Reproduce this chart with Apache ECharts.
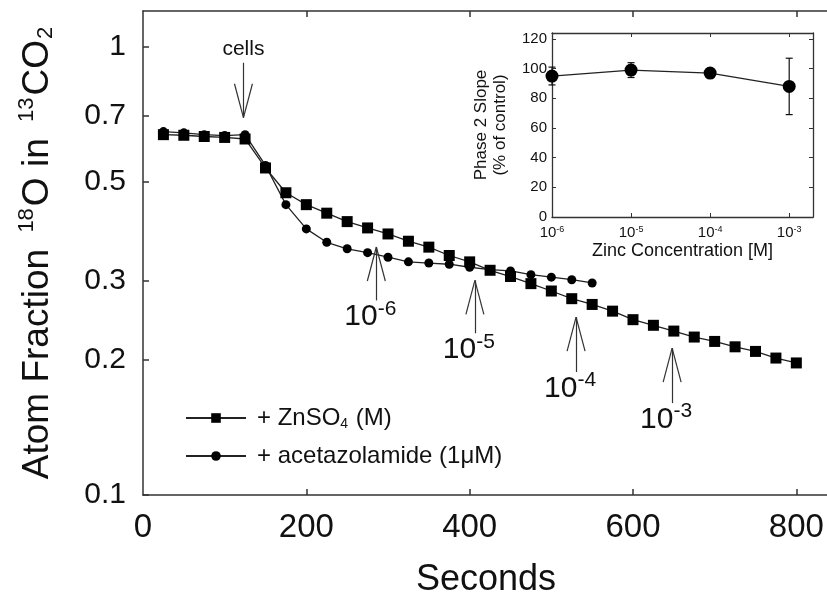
<!DOCTYPE html>
<html>
<head>
<meta charset="utf-8">
<script src="https://cdn.jsdelivr.net/npm/echarts@6/dist/echarts.min.js"></script>
<style>
html, body { margin: 0; padding: 0; background: #fff; }
#main { width: 827px; height: 593px; }
</style>
</head>
<body>
<div id="main"></div>
<script>
// main panel: 18O atom fraction vs time
var secZn = [25, 50, 75, 100, 125, 150, 175, 200, 225, 250, 275, 300, 325, 350, 375, 400,
    425, 450, 475, 500, 525, 550, 575, 600, 625, 650, 675, 700, 725, 750, 775, 800];
var zinc = [0.636, 0.634, 0.630, 0.627, 0.622, 0.536, 0.472, 0.444, 0.425, 0.407, 0.394, 0.382,
    0.368, 0.357, 0.342, 0.331, 0.317, 0.307, 0.296, 0.285, 0.274, 0.266, 0.257, 0.246,
    0.239, 0.232, 0.225, 0.220, 0.214, 0.209, 0.202, 0.197];
var secAcz = [25, 50, 75, 100, 125, 150, 175, 200, 225, 250, 275, 300, 325, 350, 375, 400,
    425, 450, 475, 500, 525, 550];
var acz = [0.646, 0.642, 0.636, 0.633, 0.636, 0.543, 0.444, 0.392, 0.366, 0.354, 0.347, 0.339,
    0.331, 0.329, 0.327, 0.322, 0.318, 0.316, 0.310, 0.306, 0.302, 0.297];
var yTicks = [0.1, 0.2, 0.3, 0.5, 0.7, 1];
var xTicks = [0, 200, 400, 600, 800];

// inset: phase 2 slope vs zinc
var zincConc = [1e-6, 1e-5, 1e-4, 1e-3];
var slope = [95, 99, 97, 88];
var slopeErr = [6, 5, 3, 19];
var insetYTicks = [0, 20, 40, 60, 80, 100, 120];

// arrows: x in seconds; shaft from -> to (tip), head = y where the V opens
var arrows = [
    { x: 123, from: 0.92, to: 0.694, head: 0.826, text: 'cells' },
    { x: 285.7, from: 0.2716, to: 0.3572, head: 0.300, exp: '-6' },
    { x: 406.4, from: 0.2294, to: 0.301, head: 0.2528, exp: '-5' },
    { x: 530.3, from: 0.188, to: 0.2493, head: 0.2094, exp: '-4' },
    { x: 647.9, from: 0.1603, to: 0.2125, head: 0.1785, exp: '-3' }
];
var headHalf = 11; // seconds

var FONT = 'Liberation Sans';
var AXIS = '#333';

var myChart = echarts.init(document.getElementById('main'));

var arrowLines = [];
arrows.forEach(function (a) {
    var label;
    if (a.text) {
        label = { show: true, position: 'start', distance: 3, formatter: a.text,
            fontSize: 21, color: '#111', fontFamily: FONT };
    } else {
        label = { show: true, position: 'start', distance: -2,
            formatter: '{a|10}{b|' + a.exp + '}', color: '#111',
            rich: {
                a: { fontSize: 30, fontFamily: FONT, color: '#111' },
                b: { fontSize: 21, fontFamily: FONT, color: '#111', padding: [0, 12, 16, 0] }
            } };
    }
    arrowLines.push([{ coord: [a.x, a.from], label: label }, { coord: [a.x, a.to] }]);
    arrowLines.push([{ coord: [a.x - headHalf, a.head], label: { show: false } }, { coord: [a.x, a.to] }]);
    arrowLines.push([{ coord: [a.x + headHalf, a.head], label: { show: false } }, { coord: [a.x, a.to] }]);
});

myChart.setOption({
    animation: false,
    textStyle: { fontFamily: FONT },
    legend: {
        data: ['+ ZnSO4 (M)', '+ acetazolamide (1μM)'],
        orient: 'vertical',
        left: 180,
        top: 399,
        itemWidth: 60,
        itemHeight: 12,
        itemGap: 10,
        selectedMode: false,
        formatter: function (name) {
            return name.replace('SO4', 'SO{sub|4}');
        },
        textStyle: {
            fontSize: 24, color: '#111', lineHeight: 28, padding: [0, 0, 0, 6],
            rich: { sub: { fontSize: 14, color: '#111', padding: [12, 1, 0, 0] } }
        }
    },
    grid: [
        { left: 143, top: 11, width: 686, height: 484, outerBoundsMode: 'none' },
        { left: 552, top: 33, width: 261, height: 184, outerBoundsMode: 'none' }
    ],
    xAxis: [{
        type: 'value', gridIndex: 0, min: 0, max: 840, position: 'bottom',
        axisLine: { onZero: false, lineStyle: { color: AXIS, width: 1.5 } },
        axisTick: { inside: true, length: 6, customValues: [200, 400, 600, 800], lineStyle: { color: AXIS, width: 1.5 } },
        axisLabel: { customValues: xTicks, fontSize: 33, color: '#111', margin: 16 },
        splitLine: { show: false },
        name: 'Seconds', nameLocation: 'middle', nameGap: 67,
        nameTextStyle: { fontSize: 36, color: '#111' }
    }, {
        type: 'value', gridIndex: 0, min: 0, max: 840, position: 'top',
        axisLine: { onZero: false, lineStyle: { color: AXIS, width: 1.5 } },
        axisTick: { inside: true, length: 6, customValues: [200, 400, 600, 800], lineStyle: { color: AXIS, width: 1.5 } },
        axisLabel: { show: false },
        splitLine: { show: false }
    }, {
        type: 'log', logBase: 10, gridIndex: 1, min: 1e-6, max: 2e-3, position: 'bottom',
        axisLine: { onZero: false, lineStyle: { color: AXIS, width: 1.3 } },
        axisTick: { inside: true, length: 4, lineStyle: { color: AXIS } },
        axisLabel: {
            fontSize: 15, color: '#111', margin: 8,
            formatter: function (v) {
                return '10{s|' + Math.round(Math.log10(v)) + '}';
            },
            rich: { s: { fontSize: 9, color: '#111', padding: [0, 0, 6, 0] } }
        },
        splitLine: { show: false },
        name: 'Zinc Concentration [M]', nameLocation: 'middle', nameGap: 25,
        nameTextStyle: { fontSize: 18, color: '#111' }
    }, {
        type: 'log', logBase: 10, gridIndex: 1, min: 1e-6, max: 2e-3, position: 'top',
        axisLine: { onZero: false, lineStyle: { color: AXIS, width: 1.3 } },
        axisTick: { inside: true, length: 4, lineStyle: { color: AXIS } },
        axisLabel: { show: false },
        splitLine: { show: false }
    }],
    yAxis: [{
        type: 'log', logBase: 10, gridIndex: 0, min: 0.1, max: 1.2, position: 'left',
        axisLine: { show: true, onZero: false, lineStyle: { color: AXIS, width: 1.5 } },
        axisTick: { show: false },
        axisLabel: { show: false },
        splitLine: { show: false }
    }, {
        // label axis for the log scale: same extent in log10 units
        type: 'value', gridIndex: 0, min: -1, max: Math.log10(1.2), position: 'left', offset: 0,
        axisLine: { show: false, onZero: false },
        axisTick: { inside: true, length: 6, customValues: yTicks.map(Math.log10), lineStyle: { color: AXIS, width: 1.5 } },
        axisLabel: {
            customValues: yTicks.map(Math.log10), fontSize: 30, color: '#111', margin: 17,
            formatter: function (v) { return String(parseFloat(Math.pow(10, v).toFixed(2))); }
        },
        splitLine: { show: false },
        name: 'Atom Fraction {sup|18}O in {sup|13}CO{sub|2}',
        nameLocation: 'middle', nameGap: 83,
        nameTextStyle: {
            fontSize: 37, color: '#111',
            rich: {
                sup: { fontSize: 22, color: '#111', padding: [0, 2, 22, 6] },
                sub: { fontSize: 22, color: '#111', padding: [16, 0, 0, 1] }
            }
        }
    }, {
        type: 'value', gridIndex: 1, min: 0, max: 124, position: 'left',
        axisLine: { show: true, onZero: false, lineStyle: { color: AXIS, width: 1.3 } },
        axisTick: { inside: true, length: 4, customValues: insetYTicks, lineStyle: { color: AXIS } },
        axisLabel: { customValues: insetYTicks, fontSize: 15, color: '#111', margin: 5 },
        splitLine: { show: false },
        name: 'Phase 2 Slope\n(% of control)', nameLocation: 'middle', nameGap: 42,
        nameTextStyle: { fontSize: 17, color: '#111', lineHeight: 19 }
    }, {
        type: 'value', gridIndex: 1, min: 0, max: 124, position: 'right',
        axisLine: { show: true, onZero: false, lineStyle: { color: AXIS, width: 1.3 } },
        axisTick: { inside: true, length: 4, customValues: insetYTicks, lineStyle: { color: AXIS } },
        axisLabel: { show: false },
        splitLine: { show: false }
    }],
    series: [{
        name: '+ ZnSO4 (M)',
        type: 'line',
        xAxisIndex: 0, yAxisIndex: 0,
        data: secZn.map(function (s, i) { return [s, zinc[i]]; }),
        symbol: 'rect', symbolSize: 11,
        itemStyle: { color: '#000' },
        lineStyle: { color: '#222', width: 1.3 },
        markLine: {
            silent: true,
            symbol: ['none', 'none'],
            lineStyle: { type: 'solid', color: '#333', width: 1.2 },
            data: arrowLines
        }
    }, {
        name: '+ acetazolamide (1μM)',
        type: 'line',
        xAxisIndex: 0, yAxisIndex: 0,
        data: secAcz.map(function (s, i) { return [s, acz[i]]; }),
        symbol: 'circle', symbolSize: 9,
        itemStyle: { color: '#000' },
        lineStyle: { color: '#222', width: 1.3 }
    }, {
        name: 'slope',
        type: 'line',
        xAxisIndex: 2, yAxisIndex: 2,
        data: zincConc.map(function (c, i) { return [c, slope[i]]; }),
        symbol: 'circle', symbolSize: 13,
        itemStyle: { color: '#000' },
        lineStyle: { color: '#222', width: 1.3 }
    }, {
        name: 'err',
        type: 'custom',
        xAxisIndex: 2, yAxisIndex: 2,
        data: zincConc.map(function (c, i) { return [c, slope[i] - slopeErr[i], slope[i] + slopeErr[i]]; }),
        encode: { x: 0, y: [1, 2] },
        renderItem: function (params, api) {
            var lo = api.coord([api.value(0), api.value(1)]);
            var hi = api.coord([api.value(0), api.value(2)]);
            var st = { stroke: '#111', lineWidth: 1.2 };
            return {
                type: 'group',
                children: [
                    { type: 'line', shape: { x1: lo[0], y1: lo[1], x2: hi[0], y2: hi[1] }, style: st },
                    { type: 'line', shape: { x1: lo[0] - 3.5, y1: lo[1], x2: lo[0] + 3.5, y2: lo[1] }, style: st },
                    { type: 'line', shape: { x1: hi[0] - 3.5, y1: hi[1], x2: hi[0] + 3.5, y2: hi[1] }, style: st }
                ]
            };
        }
    }]
});
</script>
</body>
</html>
